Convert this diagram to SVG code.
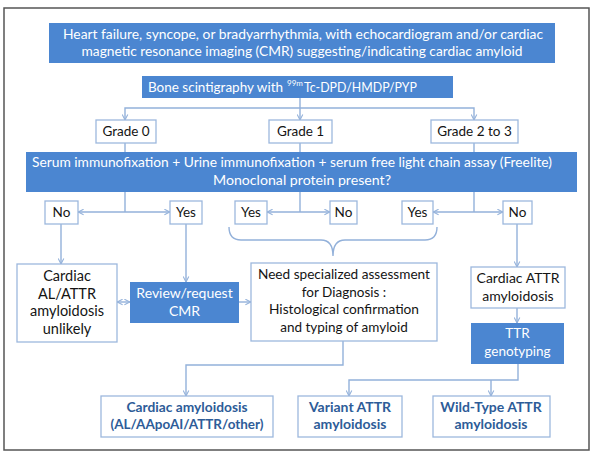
<svg xmlns="http://www.w3.org/2000/svg" width="600" height="461" viewBox="0 0 600 461">
<style>
text{font-family:Lato,"Open Sans","Liberation Sans",sans-serif;font-size:13.5px;fill:#141414;text-anchor:middle}
.bf{fill:#4b86d1}
.wb{fill:#ffffff;stroke:#9db8dd;stroke-width:1.3}
.wt{fill:#ffffff}
.st{text-anchor:start}
.bt{fill:#2d5c98;font-weight:bold;font-size:14px}
.c{fill:none;stroke:#93b1da;stroke-width:1.4}
.a{marker-end:url(#ah)}
.aa{marker-start:url(#ah);marker-end:url(#ah)}
</style>
<defs>
<marker id="ah" viewBox="0 0 10 10" refX="9" refY="5" markerWidth="7" markerHeight="7" orient="auto-start-reverse" markerUnits="userSpaceOnUse">
<path d="M1,1 L9,5 L1,9" fill="none" stroke="#93b1da" stroke-width="1.5"/>
</marker>
</defs>
<rect x="0" y="0" width="600" height="461" fill="#ffffff"/>
<rect x="4" y="8" width="585" height="442" fill="#ffffff" stroke="#555555" stroke-width="1.5"/>

<g id="connectors">
<path class="c aa" d="M125,120 V108 H474 V120"/>
<path class="c a" d="M300,98 V120"/>
<path class="c" d="M125,143 V152 M300,143 V152 M474,143 V152"/>
<path class="c" d="M125,192 V212 M300,192 V212 M474,192 V212"/>
<path class="c aa" d="M78,212 H170"/>
<path class="c aa" d="M267,212 H330"/>
<path class="c aa" d="M433,212 H503"/>
<path class="c a" d="M61,224 V264"/>
<path class="c a" d="M186,224 V282"/>
<path class="c a" d="M517,224 V267"/>
<path class="c" d="M229,227 Q229,240 241,240 H321 Q333,240 333,256 Q333,240 345,240 H425 Q437,240 437,227"/>
<path class="c aa" d="M117,302 H130"/>
<path class="c a" d="M239,302 H251"/>
<path class="c a" d="M343,341 V365 H186 V396"/>
<path class="c a" d="M517,308 V323"/>
<path class="c a" d="M518,364 V380 H349 V396"/>
<path class="c a" d="M491,380 V396"/>
</g>

<g id="n-top">
<rect class="bf" x="49" y="23" width="506" height="40"/>
<text class="wt" x="303" y="39" textLength="480" lengthAdjust="spacingAndGlyphs">Heart failure, syncope, or bradyarrhythmia, with echocardiogram and/or cardiac</text>
<text class="wt" x="302" y="56" textLength="441" lengthAdjust="spacingAndGlyphs">magnetic resonance imaging (CMR) suggesting/indicating cardiac amyloid</text>
</g>

<g id="n-bone">
<rect class="bf" x="142" y="76" width="311" height="22"/>
<text class="wt st" x="148" y="92" textLength="135" lengthAdjust="spacingAndGlyphs">Bone scintigraphy with</text>
<text class="wt st" x="287" y="86" style="font-size:8px">99m</text>
<text class="wt st" x="304" y="92" textLength="113" lengthAdjust="spacingAndGlyphs">Tc-DPD/HMDP/PYP</text>
</g>

<g id="n-grade0">
<rect class="wb" x="96" y="120" width="60" height="23"/>
<text x="126" y="136">Grade 0</text>
</g>
<g id="n-grade1">
<rect class="wb" x="269" y="120" width="63" height="23"/>
<text x="300.5" y="136">Grade 1</text>
</g>
<g id="n-grade23">
<rect class="wb" x="431" y="120" width="87" height="23"/>
<text x="474.5" y="136">Grade 2 to 3</text>
</g>

<g id="n-serum">
<rect class="bf" x="26" y="152" width="551" height="40"/>
<text class="wt" x="292" y="167" textLength="520" lengthAdjust="spacingAndGlyphs">Serum immunofixation + Urine immunofixation + serum free light chain assay (Freelite)</text>
<text class="wt" x="302" y="185" textLength="178" lengthAdjust="spacingAndGlyphs">Monoclonal protein present?</text>
</g>

<g id="n-no1">
<rect class="wb" x="45" y="201" width="33" height="23"/>
<text x="61.5" y="217">No</text>
</g>
<g id="n-yes1">
<rect class="wb" x="170" y="201" width="32" height="23"/>
<text x="186" y="217">Yes</text>
</g>
<g id="n-yes2">
<rect class="wb" x="235" y="201" width="32" height="23"/>
<text x="251" y="217">Yes</text>
</g>
<g id="n-no2">
<rect class="wb" x="330" y="201" width="27" height="23"/>
<text x="343.5" y="217">No</text>
</g>
<g id="n-yes3">
<rect class="wb" x="402" y="201" width="31" height="23"/>
<text x="417.5" y="217">Yes</text>
</g>
<g id="n-no3">
<rect class="wb" x="503" y="201" width="29" height="23"/>
<text x="517.5" y="217">No</text>
</g>

<g id="n-unlikely">
<rect class="wb" x="17" y="264" width="100" height="78"/>
<text x="67" y="281" style="font-size:14.5px">Cardiac</text>
<text x="67" y="299" style="font-size:14.5px">AL/ATTR</text>
<text x="67" y="316" style="font-size:14.5px">amyloidosis</text>
<text x="67" y="334" style="font-size:14.5px">unlikely</text>
</g>

<g id="n-review">
<rect class="bf" x="130" y="282" width="109" height="41"/>
<text class="wt" x="184.5" y="298" style="font-size:14px">Review/request</text>
<text class="wt" x="184.5" y="316" style="font-size:14px">CMR</text>
</g>

<g id="n-need">
<rect class="wb" x="251" y="263" width="186" height="78"/>
<text x="344" y="279" textLength="172" lengthAdjust="spacingAndGlyphs">Need specialized assessment</text>
<text x="344" y="297">for Diagnosis :</text>
<text x="344" y="314" textLength="150" lengthAdjust="spacingAndGlyphs">Histological confirmation</text>
<text x="344" y="332">and typing of amyloid</text>
</g>

<g id="n-attr">
<rect class="wb" x="471" y="267" width="94" height="41"/>
<text x="518" y="283" style="font-size:14px">Cardiac ATTR</text>
<text x="518" y="301" style="font-size:14px">amyloidosis</text>
</g>

<g id="n-ttr">
<rect class="bf" x="471" y="323" width="93" height="41"/>
<text class="wt" x="517.5" y="338">TTR</text>
<text class="wt" x="517.5" y="356">genotyping</text>
</g>

<g id="n-cardiac">
<rect class="wb" x="101" y="396" width="172" height="41"/>
<text class="bt" x="187" y="412" textLength="121" lengthAdjust="spacingAndGlyphs">Cardiac amyloidosis</text>
<text class="bt" x="187" y="429" textLength="153" lengthAdjust="spacingAndGlyphs">(AL/AApoAI/ATTR/other)</text>
</g>

<g id="n-variant">
<rect class="wb" x="298" y="396" width="104" height="41"/>
<text class="bt" x="350" y="412">Variant ATTR</text>
<text class="bt" x="350" y="429">amyloidosis</text>
</g>

<g id="n-wild">
<rect class="wb" x="433" y="396" width="117" height="41"/>
<text class="bt" x="491" y="412">Wild-Type ATTR</text>
<text class="bt" x="491" y="429">amyloidosis</text>
</g>
</svg>
